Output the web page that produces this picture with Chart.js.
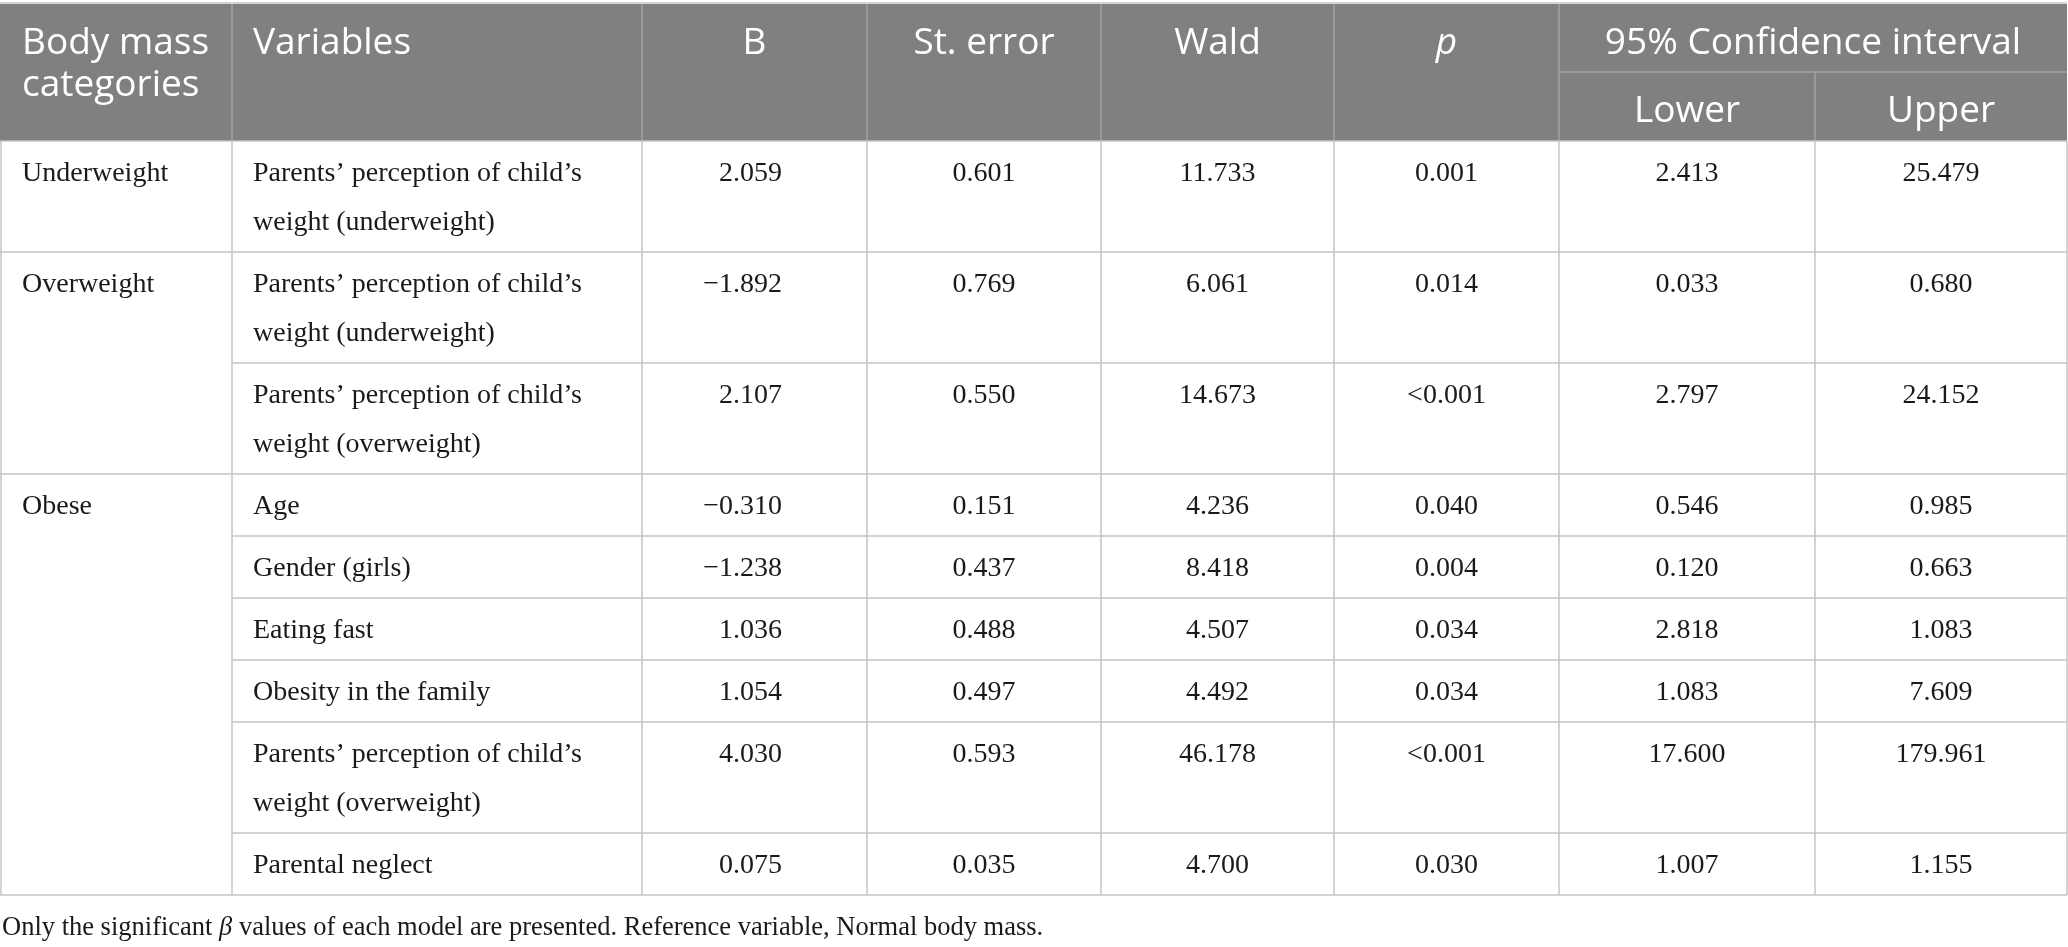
<!DOCTYPE html>
<html><head><meta charset="utf-8">
<script src="https://cdn.jsdelivr.net/npm/chart.js@4.4.1/dist/chart.umd.min.js"></script>
<style>html,body{margin:0;padding:0;background:#fff;overflow:hidden}#wrap{width:2068px;height:947px;position:relative}</style>
</head><body><div id="wrap"><canvas id="c" width="2068" height="947"></canvas></div>
<script>
// ---- table content ----
const groups = ["Underweight", "Overweight", "Obese"];
const groupSizes = [1, 2, 6];
const variables = [
  "Parents\u2019 perception of child\u2019s weight (underweight)",
  "Parents\u2019 perception of child\u2019s weight (underweight)",
  "Parents\u2019 perception of child\u2019s weight (overweight)",
  "Age",
  "Gender (girls)",
  "Eating fast",
  "Obesity in the family",
  "Parents\u2019 perception of child\u2019s weight (overweight)",
  "Parental neglect"
];
const bValues = [2.059, -1.892, 2.107, -0.310, -1.238, 1.036, 1.054, 4.030, 0.075];
const stErrors = [0.601, 0.769, 0.550, 0.151, 0.437, 0.488, 0.497, 0.593, 0.035];
const waldValues = [11.733, 6.061, 14.673, 4.236, 8.418, 4.507, 4.492, 46.178, 4.700];
const pValues = ["0.001", "0.014", "<0.001", "0.040", "0.004", "0.034", "0.034", "<0.001", "0.030"];
const ciLower = [2.413, 0.033, 2.797, 0.546, 0.120, 2.818, 1.083, 17.600, 1.007];
const ciUpper = [25.479, 0.680, 24.152, 0.985, 0.663, 1.083, 7.609, 179.961, 1.155];
const headerTop = ["Body mass categories", "Variables", "B", "St. error", "Wald", "p", "95% Confidence interval"];
const headerSub = ["Lower", "Upper"];
const footnoteParts = ["Only the significant ", "\u03B2", " values of each model are presented. Reference variable, Normal body mass."];

const fmt = v => (v < 0 ? "\u2212" : "") + Math.abs(v).toFixed(3);

const tablePlugin = {
  id: "tableDraw",
  beforeDraw(chart, args, o) {
    const ctx = chart.ctx, X = chart.scales.x, Y = chart.scales.y;
    const px = v => X.getPixelForValue(v), py = v => Y.getPixelForValue(v);
    const cols = o.colEdges;
    const right = cols[cols.length - 1];

    function wrap(text, font, maxW) {
      ctx.font = font;
      const words = text.split(" ");
      const lines = [];
      let cur = "";
      for (const w of words) {
        const t = cur ? cur + " " + w : w;
        if (cur && ctx.measureText(t).width > maxW) { lines.push(cur); cur = w; }
        else cur = t;
      }
      if (cur) lines.push(cur);
      return lines;
    }
    function hline(x0, x1, y, color, w) {
      ctx.strokeStyle = color; ctx.lineWidth = w;
      ctx.beginPath(); ctx.moveTo(px(x0), py(y)); ctx.lineTo(px(x1), py(y)); ctx.stroke();
    }
    function vline(x, y0, y1, color, w) {
      ctx.strokeStyle = color; ctx.lineWidth = w;
      ctx.beginPath(); ctx.moveTo(px(x), py(y0)); ctx.lineTo(px(x), py(y1)); ctx.stroke();
    }
    function text(str, x, y, font, color, align) {
      ctx.font = font; ctx.fillStyle = color; ctx.textAlign = align; ctx.textBaseline = "alphabetic";
      ctx.fillText(str, px(x), py(y));
    }

    // row layout from wrapped variable lines
    const varLines = variables.map(v => wrap(v, o.bodyFont, cols[2] - cols[1] - 2 * o.padX));
    const rowTops = [];
    let y = o.headerBottom;
    varLines.forEach(l => { rowTops.push(y); y += o.rowPad + o.lineGap * l.length; });
    const tableBottom = y;

    ctx.save();
    // header background
    ctx.fillStyle = o.headerBg;
    ctx.fillRect(px(0), py(o.headerTopY), px(right) - px(0), py(o.headerBottom) - py(o.headerTopY));
    hline(0, right, o.headerTopY - 1, o.bodyLine, 1.5);
    // header inner lines
    for (let i = 1; i < cols.length - 2; i++) vline(cols[i], o.headerTopY, o.headerBottom, o.headerLine, 1.5);
    hline(cols[6], right, o.headerSplit, o.headerLine, 1.5);
    vline(cols[7], o.headerSplit, o.headerBottom, o.headerLine, 1.5);

    // header text
    const hFont = o.headFont, hFontI = "italic " + o.headFont;
    const hb = o.headerTopY + o.headBase;
    wrap(headerTop[0], hFont, cols[1] - cols[0] - 20).forEach((l, k) => text(l, cols[0] + o.padX, hb + k * o.headGap, hFont, "#fff", "left"));
    text(headerTop[1], cols[1] + o.padX, hb, hFont, "#fff", "left");
    for (let i = 2; i <= 5; i++) text(headerTop[i], (cols[i] + cols[i + 1]) / 2, hb, i === 5 ? hFontI : hFont, "#fff", "center");
    text(headerTop[6], (cols[6] + cols[8]) / 2, hb, hFont, "#fff", "center");
    text(headerSub[0], (cols[6] + cols[7]) / 2, o.headerSplit + o.headBase, hFont, "#fff", "center");
    text(headerSub[1], (cols[7] + cols[8]) / 2, o.headerSplit + o.headBase, hFont, "#fff", "center");

    // body grid
    hline(0, right, o.headerBottom, o.bodyLine, 1.5);
    let cum = 0;
    const groupStarts = groupSizes.map(s => { const st = cum; cum += s; return st; });
    rowTops.forEach((t, r) => {
      if (r > 0) {
        const isGroupStart = groupStarts.includes(r);
        hline(isGroupStart ? 0 : cols[1], right, t, o.bodyLine, 1.5);
      }
    });
    hline(0, right, tableBottom, o.bodyLine, 1.5);
    cols.forEach(c => vline(c, o.headerBottom, tableBottom, o.bodyLine, 1.5));

    // body text
    const bf = o.bodyFont, col = o.textColor;
    groups.forEach((g, i) => text(g, cols[0] + o.padX, rowTops[groupStarts[i]] + o.bodyBase, bf, col, "left"));
    rowTops.forEach((t, r) => {
      const b = t + o.bodyBase;
      varLines[r].forEach((l, k) => text(l, cols[1] + o.padX, b + k * o.lineGap, bf, col, "left"));
      text(fmt(bValues[r]), o.bRightX, b, bf, col, "right");
      text(fmt(stErrors[r]), (cols[3] + cols[4]) / 2, b, bf, col, "center");
      text(fmt(waldValues[r]), (cols[4] + cols[5]) / 2, b, bf, col, "center");
      text(pValues[r], (cols[5] + cols[6]) / 2, b, bf, col, "center");
      text(fmt(ciLower[r]), (cols[6] + cols[7]) / 2, b, bf, col, "center");
      text(fmt(ciUpper[r]), (cols[7] + cols[8]) / 2, b, bf, col, "center");
    });

    // footnote
    let fx = px(o.footX);
    const fy = py(tableBottom + o.footGap);
    ctx.textAlign = "left"; ctx.fillStyle = col; ctx.textBaseline = "alphabetic";
    footnoteParts.forEach((s, k) => {
      ctx.font = (k === 1 ? "italic " : "") + o.footFont;
      ctx.fillText(s, fx, fy);
      fx += ctx.measureText(s).width;
    });
    ctx.restore();
  }
};

new Chart(document.getElementById("c"), {
  type: "scatter",
  data: { datasets: [] },
  plugins: [tablePlugin],
  options: {
    responsive: false,
    devicePixelRatio: 1,
    animation: false,
    events: [],
    layout: { padding: 0 },
    scales: {
      x: { type: "linear", min: 0, max: 2068, display: false },
      y: { type: "linear", min: 0, max: 947, reverse: true, display: false }
    },
    plugins: {
      legend: { display: false },
      tooltip: { enabled: false },
      tableDraw: {
        colEdges: [1, 232, 642, 867, 1101, 1334, 1559, 1815, 2067],
        headerTopY: 4, headerSplit: 72, headerBottom: 141,
        headBase: 50, headGap: 42,
        bodyBase: 40, lineGap: 49, rowPad: 13,
        padX: 21, bRightX: 782,
        footX: 2, footGap: 40,
        headerBg: "#808080", headerLine: "#a3a3a3", bodyLine: "#c4c4c4",
        textColor: "#1a1a1a",
        headFont: "37px 'Open Sans'",
        bodyFont: "28px 'Liberation Serif'",
        footFont: "26.5px 'Liberation Serif'"
      }
    }
  }
});
</script>
</body></html>
